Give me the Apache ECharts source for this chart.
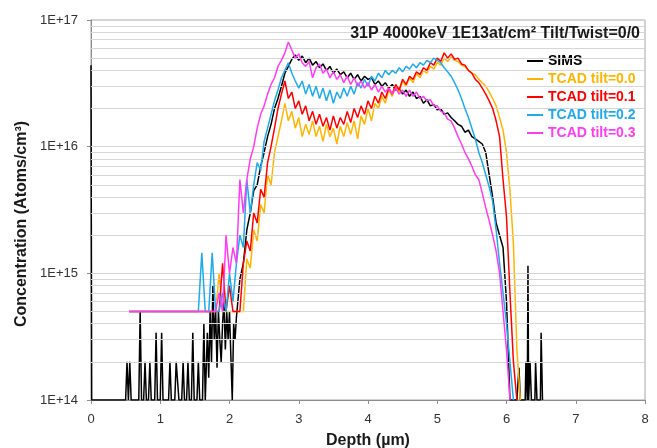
<!DOCTYPE html>
<html>
<head>
<meta charset="utf-8">
<script src="https://cdn.jsdelivr.net/npm/echarts@6/dist/echarts.min.js"></script>
<style>html,body{margin:0;padding:0;background:#fff}#c{width:657px;height:448px}</style>
</head>
<body>
<div id="c"></div>
<script>
// ---------- DATA ----------
var seriesNames = ['SIMS', 'TCAD tilt=0.0', 'TCAD tilt=0.1', 'TCAD tilt=0.2', 'TCAD tilt=0.3'];
var seriesColors = ['#000000', '#FFB400', '#FF0000', '#1EAAEB', '#FF3CF5'];
var xTicks = [0, 1, 2, 3, 4, 5, 6, 7, 8];
var yTickLabels = ['1E+14', '1E+15', '1E+16', '1E+17'];
var gridLevels = [2e14,3e14,4e14,5e14,6e14,7e14,8e14,9e14,1e15,2e15,3e15,4e15,5e15,6e15,7e15,8e15,9e15,1e16,2e16,3e16,4e16,5e16,6e16,7e16,8e16,9e16];

// Depth grid used by the TCAD curves and the SIMS body (µm)
var tcadDepth = [0.55,
  1.55,1.60,1.65,1.70,1.75,1.80,1.85,1.90,1.95,2.00,
  2.05,2.10,2.15,2.20,2.25,2.30,2.35,2.40,2.45,2.50,
  2.55,2.60,2.65,2.70,2.75,2.80,2.85,2.90,2.95,3.00,
  3.05,3.10,3.15,3.20,3.25,3.30,3.35,3.40,3.45,3.50,
  3.55,3.60,3.65,3.70,3.75,3.80,3.85,3.90,3.95,4.00,
  4.05,4.10,4.15,4.20,4.25,4.30,4.35,4.40,4.45,4.50,
  4.55,4.60,4.65,4.70,4.75,4.80,4.85,4.90,4.95,5.00,
  5.05,5.10,5.15,5.20,5.25,5.30,5.35,5.40,5.45,5.50,
  5.55,5.60,5.65,5.70,5.75,5.80,5.85,5.90,5.95,6.00,
  6.05,6.10,6.15,6.20];

var tilt00 = [5e14,
  5e14,5e14,5e14,5e14,5e14,5e14,1e15,5e14,5e14,5e14,
  5e14,5e14,5e14,5e14,1.3e15,1.1e15,2.2e15,1.8e15,3.5e15,3e15,
  6e15,5e15,9e15,1.2e16,1.6e16,2.2e16,1.6e16,1.9e16,1.4e16,1.7e16,
  1.2e16,1.5e16,1.25e16,1.6e16,1.2e16,1.45e16,1.1e16,1.5e16,1.2e16,1.4e16,
  1.05e16,1.45e16,1.2e16,1.55e16,1.25e16,1.6e16,1.15e16,1.75e16,1.5e16,2e16,
  1.6e16,2.2e16,2e16,2.5e16,2.2e16,2.8e16,2.5e16,3e16,2.7e16,3.3e16,
  3e16,3.5e16,3.2e16,3.8e16,3.5e16,4e16,3.8e16,4.3e16,4.1e16,4.6e16,
  4.4e16,5e16,4.7e16,5.1e16,4.8e16,4.7e16,4.4e16,4.3e16,4e16,3.8e16,
  3.7e16,3.4e16,3.2e16,3e16,2.7e16,2.4e16,2.1e16,1.7e16,1.35e16,9e15,
  4.5e15,1.7e15,2.5e14,1e14];

var tilt01 = [5e14,
  5e14,5e14,5e14,5e14,5e14,5e14,5e14,1.2e15,5e14,8e14,
  5e14,5e14,5e14,1.2e15,1.8e15,1.5e15,3e15,2.5e15,4.6e15,4e15,
  7.5e15,1e16,1.4e16,2e16,2.6e16,3.3e16,2.4e16,2.7e16,2e16,2.3e16,
  1.8e16,2.1e16,1.6e16,1.9e16,1.5e16,1.8e16,1.45e16,1.7e16,1.35e16,1.75e16,
  1.4e16,1.7e16,1.5e16,1.9e16,1.55e16,2e16,1.7e16,2.1e16,1.8e16,2.3e16,
  2e16,2.5e16,2.2e16,2.7e16,2.4e16,2.9e16,2.6e16,3.1e16,2.8e16,3.4e16,
  3.1e16,3.6e16,3.4e16,3.9e16,3.7e16,4.2e16,4e16,4.6e16,4.4e16,5e16,
  4.7e16,5.5e16,5e16,5.4e16,4.9e16,5e16,4.5e16,4.4e16,4e16,3.8e16,
  3.4e16,3.2e16,2.9e16,2.6e16,2.3e16,2e16,1.6e16,1.2e16,5.5e15,2.8e15,
  7e14,2e14,1e14];

var tilt02 = [5e14,
  5e14,1.45e15,5e14,5e14,1.45e15,5e14,5e14,7e14,5e14,1e15,
  6e14,1.2e15,2e15,1.6e15,5.5e15,3e15,5e15,7.5e15,6.5e15,1.1e16,
  1.4e16,1.8e16,2.3e16,2.8e16,3.5e16,4e16,4.6e16,3.8e16,3.3e16,2.9e16,
  3.3e16,2.6e16,3.1e16,2.5e16,3e16,2.4e16,2.9e16,2.3e16,2.8e16,2.2e16,
  2.7e16,2.4e16,2.9e16,2.5e16,3e16,2.6e16,3.2e16,2.9e16,3.4e16,3e16,
  3.6e16,3.3e16,3.8e16,3.5e16,4e16,3.7e16,4e16,3.8e16,4.2e16,3.9e16,
  4.3e16,4.1e16,4.5e16,4.2e16,4.6e16,4.4e16,4.8e16,4.6e16,5e16,4.8e16,
  4.6e16,4.2e16,3.9e16,3.6e16,3.2e16,2.8e16,2.4e16,2e16,1.7e16,1.4e16,
  1.15e16,9e15,7.5e15,6e15,4.8e15,3.7e15,2.2e15,1.2e15,7e14,4e14,
  2e14,1e14];

var tilt03 = [5e14,
  5e14,5e14,5e14,5e14,5e14,5e14,7e14,5e14,2e15,1e15,
  1.6e15,1.2e15,5.5e15,3e15,5.5e15,8e15,1e16,1.4e16,1.8e16,2.1e16,
  2.6e16,3.1e16,3.5e16,4.3e16,4.8e16,5.5e16,6.7e16,5.8e16,5e16,5.4e16,
  4.6e16,4.3e16,4.7e16,3.5e16,4.2e16,4.5e16,3.8e16,4.1e16,3.5e16,3.9e16,
  3.4e16,3.7e16,3.2e16,3.6e16,3.1e16,3.5e16,3e16,3.3e16,2.9e16,3.2e16,
  2.8e16,3.1e16,2.7e16,3e16,2.7e16,2.9e16,2.6e16,2.9e16,2.6e16,2.8e16,
  2.5e16,2.8e16,2.5e16,2.7e16,2.4e16,2.5e16,2.3e16,2.35e16,2.1e16,2.1e16,
  1.9e16,1.85e16,1.65e16,1.6e16,1.4e16,1.2e16,1.05e16,9e15,8e15,7e15,
  6e15,5.5e15,4.3e15,3.3e15,2.6e15,2e15,1.5e15,1e15,5e14,2.5e14,
  1e14];

// SIMS: noisy background before the implant
var simsLowDepth = [0.00,0.01,0.50,0.52,0.54,0.56,0.58,0.69,0.71,0.73,0.76,0.78,0.80,0.83,0.85,0.87,0.92,0.94,0.96,1.00,1.02,1.04,1.12,1.14,1.16,1.21,1.23,1.25,1.27,1.31,1.33,1.35,1.38,1.40,1.42,1.45,1.47,1.49,1.53,1.55,1.57,1.61,1.63,1.65,1.68,1.70,1.72,1.74,1.76,1.78,1.80,1.82,1.84,1.86,1.88,1.90,1.92,1.94,1.96,1.98,2.00,2.02,2.04,2.06,2.08];
var simsLowConc  = [4.4e16,1e14,1e14,2e14,1e14,2e14,1e14,1e14,5e14,1e14,1e14,2e14,1e14,1e14,2e14,1e14,1e14,3.4e14,1e14,1e14,3.4e14,1e14,1e14,2e14,1e14,1e14,2e14,2e14,1e14,1e14,2e14,1e14,1e14,2e14,1e14,1e14,3.4e14,1e14,1e14,2e14,1e14,1e14,4e14,1e14,3.4e14,1.5e14,5e14,2e14,8e14,3e14,5e14,1.8e14,5e14,3e14,2e14,4e14,6e14,2.5e14,5e14,3e14,5e14,2.2e14,1e14,4e14,3e14];
// SIMS body on the depth grid, from 2.10 µm
var simsBody = [
  4.5e14,9e14,1.2e15,2.2e15,3e15,4.5e15,5e15,7e15,9e15,
  1.2e16,1.5e16,2e16,2.4e16,3e16,3.8e16,4.3e16,4.9e16,5.3e16,4.8e16,
  5.2e16,4.6e16,5e16,4.4e16,4.7e16,4.2e16,4.5e16,4e16,4.3e16,3.8e16,
  4.1e16,3.7e16,3.9e16,3.5e16,3.8e16,3.4e16,3.7e16,3.3e16,3.6e16,3.4e16,
  3.5e16,3.1e16,3.3e16,3e16,3.2e16,2.9e16,3.1e16,2.8e16,2.9e16,2.6e16,
  2.8e16,2.5e16,2.7e16,2.4e16,2.5e16,2.2e16,2.35e16,2.1e16,2.15e16,1.95e16,
  2e16,1.8e16,1.85e16,1.7e16,1.6e16,1.5e16,1.45e16,1.3e16,1.35e16,1.2e16,
  1.15e16,1.1e16,1.05e16,9e15,6e15,4e15,2.5e15,2e15,1.6e15,6e14,
  1e14];
var simsBodyStart = 12; // index of 2.10 µm in tcadDepth
// SIMS: noise after the implant tail
var simsTailDepth = [6.15,6.18,6.20,6.27,6.28,6.30,6.31,6.32,6.34,6.36,6.41,6.42,6.44,6.49,6.50,6.52];
var simsTailConc  = [1e14,1.8e14,1e14,1e14,2e14,1e14,1.15e15,1e14,2e14,1e14,1e14,2e14,1e14,1e14,3.4e14,1e14];

// ---------- BUILD ----------
function zip(xs, ys) {
  var out = [];
  for (var i = 0; i < ys.length; i++) out.push([xs[i], ys[i]]);
  return out;
}
var simsData = zip(simsLowDepth, simsLowConc)
  .concat(zip(tcadDepth.slice(simsBodyStart), simsBody))
  .concat(zip(simsTailDepth, simsTailConc));
var dataSets = [simsData, zip(tcadDepth, tilt00), zip(tcadDepth, tilt01), zip(tcadDepth, tilt02), zip(tcadDepth, tilt03)];

var FONT = '"Liberation Sans", Arial, Helvetica, sans-serif';

var series = dataSets.map(function (d, i) {
  var s = {
    name: seriesNames[i],
    type: 'line',
    data: d,
    symbol: 'none',
    showSymbol: false,
    sampling: null,
    animation: false,
    color: seriesColors[i],
    lineStyle: { width: 1.5, color: seriesColors[i] },
    z: 3 + i
  };
  if (i === 0) {
    s.markLine = {
      silent: true,
      symbol: ['none', 'none'],
      label: { show: false },
      animation: false,
      lineStyle: { color: '#D6D6D6', width: 1, type: 'solid' },
      emphasis: { disabled: true },
      data: gridLevels.map(function (v) { return { yAxis: v }; })
    };
  }
  return s;
});

var chart = echarts.init(document.getElementById('c'), null, { renderer: 'canvas' });
chart.setOption({
  animation: false,
  backgroundColor: '#ffffff',
  textStyle: { fontFamily: FONT },
  title: {
    text: '31P 4000keV 1E13at/cm\u00B2 Tilt/Twist=0/0',
    right: 12, top: 21,
    textStyle: { fontFamily: FONT, fontSize: 16, fontWeight: 'bold', color: '#1a1a1a' }
  },
  legend: {
    orient: 'vertical',
    left: 522, top: 49,
    itemWidth: 16, itemHeight: 14, itemGap: 4,
    icon: 'path://M0,6 L16,6 L16,8 L0,8 Z',
    textStyle: { fontFamily: FONT, fontSize: 14, fontWeight: 'bold' },
    data: seriesNames.map(function (n, i) {
      return { name: n, itemStyle: { color: seriesColors[i] }, textStyle: { color: seriesColors[i] } };
    })
  },
  grid: { left: 91, right: 12, top: 20, bottom: 48, show: true, borderColor: '#A6A6A6', borderWidth: 1, containLabel: false, outerBoundsMode: 'none' },
  xAxis: {
    type: 'value', min: xTicks[0], max: xTicks[xTicks.length - 1], interval: 1,
    name: 'Depth (\u00B5m)', nameLocation: 'middle', nameGap: 33,
    nameTextStyle: { fontFamily: FONT, fontSize: 16, fontWeight: 'bold', color: '#1a1a1a' },
    axisLine: { lineStyle: { color: '#8C8C8C', width: 1 } },
    axisTick: { show: true, length: 4, lineStyle: { color: '#8C8C8C' } },
    axisLabel: { fontFamily: FONT, fontSize: 13, color: '#333', margin: 13 },
    splitLine: { show: false }
  },
  yAxis: {
    type: 'log', logBase: 10, min: 1e14, max: 1e17,
    axisLine: { show: true, lineStyle: { color: '#8C8C8C', width: 1 } },
    axisTick: { show: true, length: 4, lineStyle: { color: '#8C8C8C' } },
    axisLabel: {
      fontFamily: FONT, fontSize: 13, color: '#333', margin: 13,
      formatter: function (v) { return yTickLabels[Math.round(Math.log10(v)) - 14]; }
    },
    splitLine: { show: true, lineStyle: { color: '#D6D6D6', width: 1 } }
  },
  graphic: [{
    type: 'text', x: 22, y: 224, rotation: Math.PI / 2,
    style: { text: 'Concentration (Atoms/cm\u00B3)', fontFamily: FONT, fontSize: 16, fontWeight: 'bold', fill: '#1a1a1a', align: 'center', verticalAlign: 'middle' }
  }],
  series: series
});
</script>
</body>
</html>
